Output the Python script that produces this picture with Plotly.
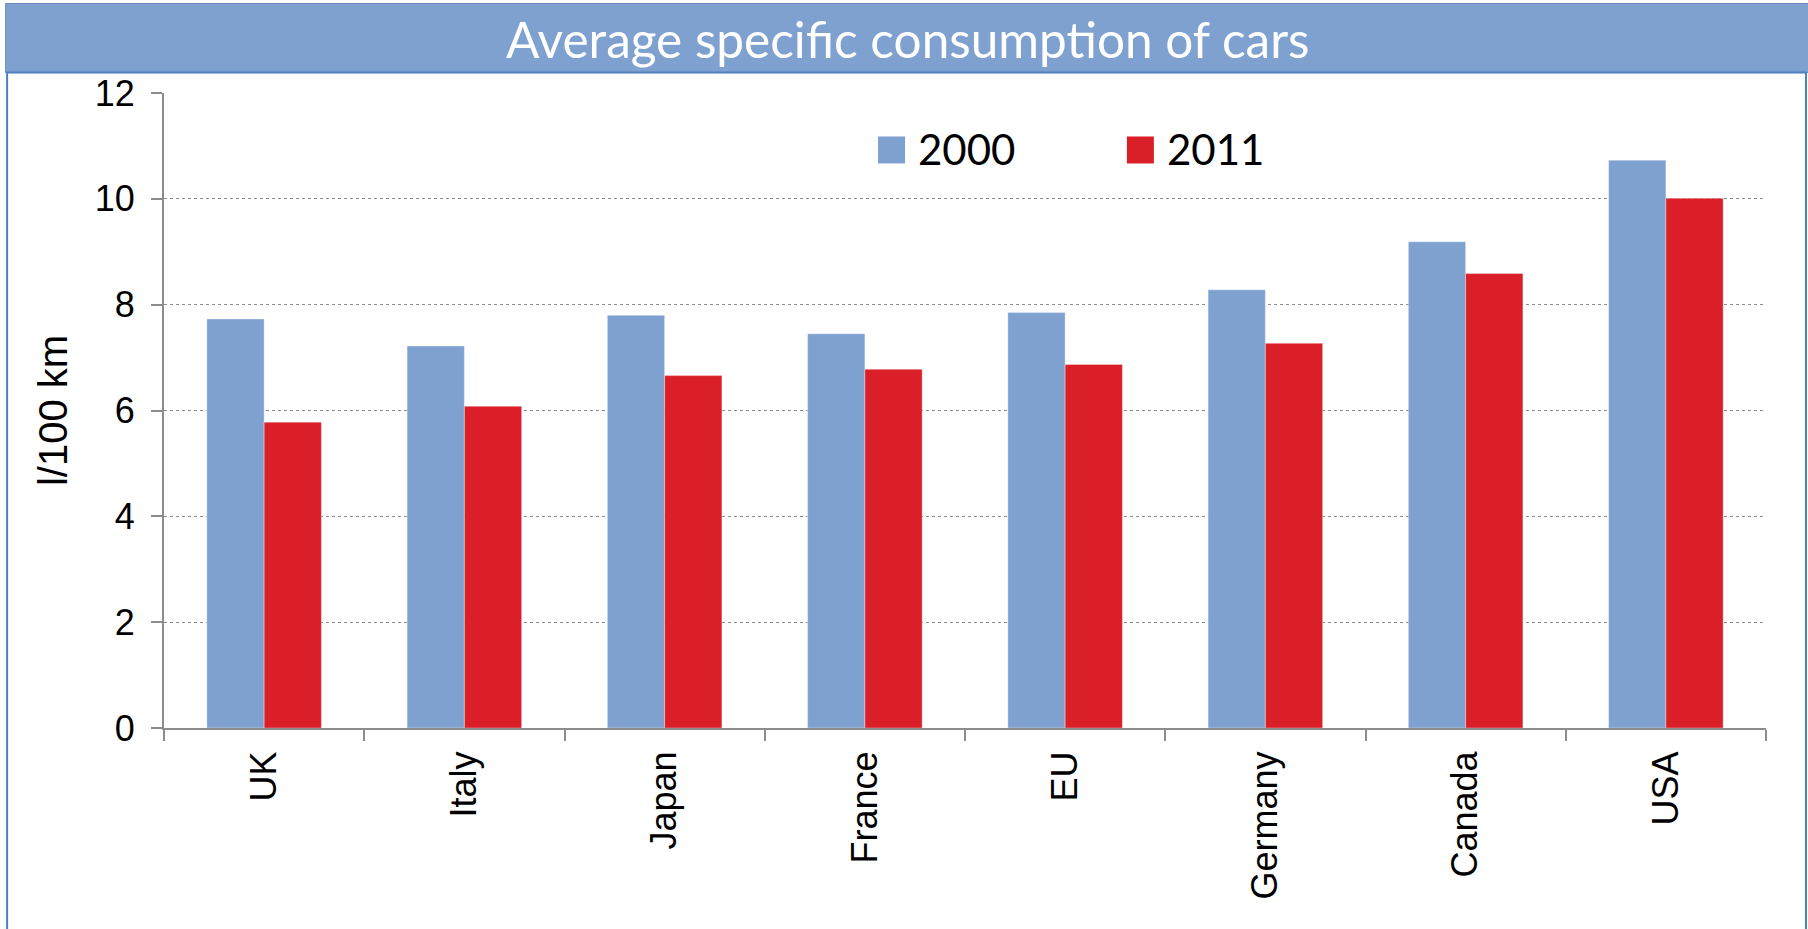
import plotly.graph_objects as go

countries = ["UK", "Italy", "Japan", "France", "EU", "Germany", "Canada", "USA"]
values_2000 = [7.73, 7.22, 7.80, 7.45, 7.85, 8.28, 9.19, 10.73]
values_2011 = [5.78, 6.08, 6.66, 6.78, 6.87, 7.27, 8.59, 10.01]
series_names = ["2000", "2011"]
y_ticks = [0, 2, 4, 6, 8, 10, 12]

BLUE = "#7FA1D0"
RED = "#DA1F28"
GRAY = "#8C8C8C"

W, H = 1808, 929
L, R, T, B = 163.5, 1766.5, 92.5, 727.7


def xp(px):
    return (px - L) / (R - L)


def yp(py):
    return (B - py) / (B - T)


fig = go.Figure()
fig.add_trace(go.Bar(x=countries, y=values_2000, name=series_names[0],
                     marker=dict(color=BLUE, line=dict(color="rgba(255,255,255,0.35)", width=1)),
                     showlegend=False))
fig.add_trace(go.Bar(x=countries, y=values_2011, name=series_names[1],
                     marker=dict(color=RED, line=dict(color="rgba(255,255,255,0.35)", width=1)),
                     showlegend=False))

shapes = [
    # title bar
    dict(type="rect", xref="paper", yref="paper", x0=xp(5), x1=xp(1815), y0=yp(72), y1=yp(3),
         fillcolor=BLUE, line=dict(color="#6A8CC2", width=1), layer="below"),
    # frame
    dict(type="rect", xref="paper", yref="paper", x0=xp(6.5), x1=xp(1806.5), y0=yp(940), y1=yp(72),
         fillcolor="rgba(0,0,0,0)", line=dict(color="#4F7FBD", width=2), layer="below"),
    # legend swatches
    dict(type="rect", xref="paper", yref="paper", x0=xp(878), x1=xp(905), y0=yp(163), y1=yp(136),
         fillcolor=BLUE, line=dict(width=0)),
    dict(type="rect", xref="paper", yref="paper", x0=xp(1127), x1=xp(1154), y0=yp(163), y1=yp(136),
         fillcolor=RED, line=dict(width=0)),
]

annotations = [
    dict(text="Average specific consumption of cars", xref="paper", yref="paper",
         x=xp(907), y=yp(38), xanchor="center", yanchor="middle", showarrow=False,
         font=dict(family="Lato", size=49.5, color="white")),
    dict(text=series_names[0], xref="paper", yref="paper", x=xp(916), y=yp(149),
         xanchor="left", yanchor="middle", showarrow=False,
         font=dict(family="Lato", size=42, color="black")),
    dict(text=series_names[1], xref="paper", yref="paper", x=xp(1165), y=yp(149),
         xanchor="left", yanchor="middle", showarrow=False,
         font=dict(family="Lato", size=42, color="black")),
]

fig.update_layout(
    width=W, height=H,
    margin=dict(l=L, r=W - R, t=T, b=H - B, pad=0, autoexpand=False),
    paper_bgcolor="white", plot_bgcolor="white",
    barmode="group", bargap=0.428, bargroupgap=0,
    shapes=shapes, annotations=annotations,
    showlegend=False,
    font=dict(family="Liberation Sans, Arial", color="black"),
)

fig.update_xaxes(
    type="category", tickangle=-90, tickfont=dict(size=36, family="Liberation Sans"),
    showline=True, linecolor=GRAY, linewidth=2,
    ticks="outside", tickson="boundaries", ticklen=11, tickcolor=GRAY, tickwidth=2,
    ticklabelstandoff=7, showgrid=False, automargin=False,
)
fig.update_yaxes(
    range=[0, 12], tickvals=y_ticks, tickfont=dict(size=36, family="Liberation Sans"),
    showline=True, linecolor=GRAY, linewidth=2,
    ticks="outside", ticklen=11, tickcolor=GRAY, tickwidth=2,
    ticklabelstandoff=9,
    showgrid=True, gridcolor=GRAY, gridwidth=1, griddash="dot", zeroline=False,
    title=dict(text="l/100 km", font=dict(size=40, family="Liberation Sans"), standoff=15),
    automargin=False,
)

fig.write_html("out.html")
